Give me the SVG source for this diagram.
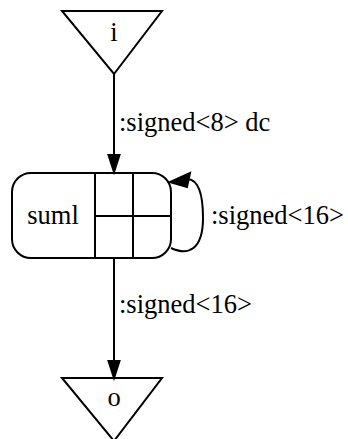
<svg xmlns="http://www.w3.org/2000/svg" width="348" height="439" viewBox="0 0 348 439">
  <style>
    .shape { fill: none; stroke: #000; stroke-width: 2; }
    .edge { fill: none; stroke: #000; stroke-width: 2; }
    .head { fill: #000; stroke: #000; stroke-width: 2; stroke-linejoin: miter; }
    text { font-family: "Liberation Serif", "Times New Roman", serif; font-size: 26.5px; fill: #000; }
    .mid { text-anchor: middle; }
  </style>

  <!-- connectors -->
  <g id="edges">
    <g id="edge-i-suml">
      <path class="edge" d="M114,74 L114,156"/>
      <polygon class="head" points="108.5,155 119.5,155 114,172"/>
      <text x="119" y="131">:signed&lt;8&gt; dc</text>
    </g>
    <g id="edge-suml-suml">
      <path class="edge" d="M171,248 C188,256 203,250 203,218 C203,192 198,180 188,179"/>
      <polygon class="head" points="190,173 187,187 170,182"/>
      <text x="211" y="224">:signed&lt;16&gt;</text>
    </g>
    <g id="edge-suml-o">
      <path class="edge" d="M114,258 L114,362"/>
      <polygon class="head" points="108.5,361 119.5,361 114,378"/>
      <text x="119" y="313">:signed&lt;16&gt;</text>
    </g>
  </g>

  <!-- nodes -->
  <g id="node-i">
    <polygon class="shape" points="62,11 162,11 114,74"/>
    <text class="mid" x="114" y="41">i</text>
  </g>
  <g id="node-suml">
    <rect class="shape" x="12" y="173" width="159" height="85" rx="19" ry="19"/>
    <path class="shape" d="M95,173 L95,258 M133,173 L133,258 M95,216 L171,216"/>
    <text class="mid" x="53" y="224">suml</text>
  </g>
  <g id="node-o">
    <polygon class="shape" points="62,378 162,378 114,441"/>
    <text class="mid" x="114" y="406">o</text>
  </g>
</svg>
